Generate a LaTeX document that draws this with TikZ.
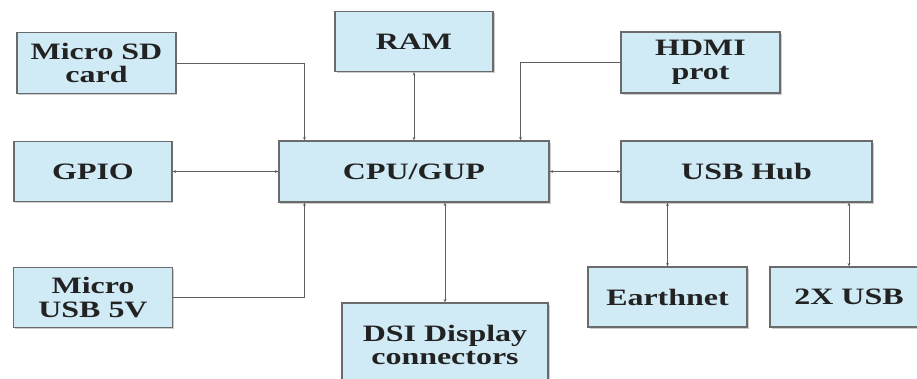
\documentclass[tikz,border=0pt]{standalone}
\usepackage{fontspec}
\newfontfamily\boxfont{Liberation Serif Bold}[FakeStretch=1.36]
\usetikzlibrary{arrows.meta,shadows}

\definecolor{boxfill}{HTML}{D1EBF6}
\definecolor{boxline}{HTML}{6B6B6B}
\definecolor{wire}{HTML}{5E5E5E}
\definecolor{ink}{HTML}{222222}

\tikzset{
  unit/.style={draw=boxline, line width=1.1pt, fill=boxfill, rectangle, align=center,
    text=ink, font=\boxfont\fontsize{23.5}{23.5}\selectfont,
    drop shadow={shadow xshift=1.5pt, shadow yshift=-1.5pt, fill=black!20, opacity=1}},
  wire/.style={draw=wire, line width=0.8pt}
}

\begin{document}
\begin{tikzpicture}[x=1pt, y=1pt, >={Stealth[length=3.5pt,width=2.8pt]}]

        \useasboundingbox (-414,171.5) rectangle (503,-206.5);

        % Processor in the middle
        \node[unit, minimum width=270pt, minimum height=61pt] (cpu) {CPU/GUP};

        % Memory above
        \node[unit, above of=cpu, node distance=130pt, minimum width=158pt, minimum height=60pt] (ram) {RAM};
        \draw[wire, <->] (ram) -- (cpu);

        % Left column
        \node[unit, left of=cpu, node distance=321pt, minimum width=158pt, minimum height=60pt] (gpio) {GPIO};
        \draw[wire, <->] (gpio) -- (cpu);

        \node[unit, above of=gpio, node distance=108.5pt, xshift=3.5pt, minimum width=159pt, minimum height=61pt] (sdcard) {Micro SD\\card};
        \draw[wire, ->] (sdcard.east) -| ([xshift=26pt]cpu.north west);

        \node[unit, below of=gpio, node distance=126pt, minimum width=159pt, minimum height=60pt] (microusb) {Micro\\USB 5V};
        \draw[wire, ->] (microusb.east) -| ([xshift=26pt]cpu.south west);

        % Display below
        \node[unit, below of=cpu, node distance=173.5pt, xshift=31pt, minimum width=206pt, minimum height=84pt] (dsi) {DSI Display\\connectors};
        \draw[wire, <->] (dsi.north) -- (dsi.north |- cpu.south);

        % Right side
        \node[unit, right of=cpu, node distance=332.5pt, minimum width=251pt, minimum height=61pt] (hub) {USB Hub};
        \draw[wire, <->] (cpu) -- (hub);

        \node[unit, above of=hub, node distance=109pt, xshift=-46pt, minimum width=159pt, minimum height=61pt] (hdmi) {HDMI\\prot};
        \draw[wire, ->] (hdmi.west) -| ([xshift=-29pt]cpu.north east);

        \node[unit, below of=hub, node distance=125.5pt, xshift=-79pt, minimum width=159pt, minimum height=60pt] (ether) {Earthnet};
        \draw[wire, <->] (ether.north |- hub.south) -- (ether.north);

        \node[unit, right of=ether, node distance=181.5pt, minimum width=158pt, minimum height=60pt] (usbports) {2X USB};
        \draw[wire, <->] (usbports.north |- hub.south) -- (usbports.north);

        \end{tikzpicture}
\end{document}
